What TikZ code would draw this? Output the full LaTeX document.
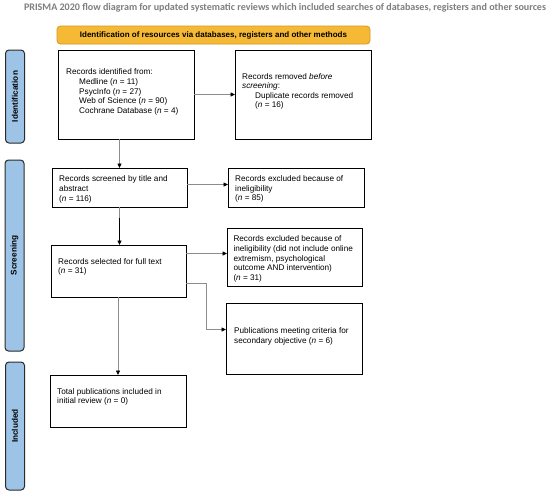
\documentclass[tikz,border=0pt]{standalone}
\usepackage{graphicx}
\usepackage{fontspec}
\setmainfont{Liberation Sans}
\newfontfamily\titlefont{Carlito}
\usetikzlibrary{arrows.meta,calc}
\definecolor{bannerfill}{HTML}{F5B935}
\definecolor{bannerdraw}{HTML}{D29A26}
\definecolor{sidefill}{HTML}{9DC3E6}
\definecolor{sidedraw}{HTML}{2B2B2B}
\definecolor{linegray}{HTML}{8C8C8C}
\definecolor{titlegray}{HTML}{7F7F7F}
\begin{document}
\begin{tikzpicture}[x=1pt,y=-1pt,
  box/.style={draw=black,line width=0.9pt,inner sep=0pt,outer sep=0pt,fill=white},
  txt/.style={anchor=north west,inner sep=0pt,align=left,font=\fontsize{8.2}{9.6}\selectfont},
  side/.style={draw=sidedraw,fill=sidefill,line width=1pt,rounded corners=3.5pt,inner sep=0pt,minimum width=19pt},
  sidetxt/.style={rotate=90,inner sep=0pt,font=\bfseries\fontsize{8.2}{9.6}\selectfont},
  conn/.style={draw=linegray,line width=0.8pt},
  arr/.style={conn,-{Triangle[length=4.5pt,width=4pt,color=black]}}]
\useasboundingbox[fill=white] (0,0) rectangle (550,493);

% title
\node[inner sep=0pt,outer sep=0pt,anchor=west,text=titlegray] (title) at (24,8)
  {\resizebox{522pt}{!}{\titlefont\bfseries PRISMA 2020 flow diagram for updated systematic reviews which included searches of databases, registers and other sources}};

% banner
\node[draw=bannerdraw,fill=bannerfill,line width=0.8pt,rounded corners=3.5pt,
  minimum width=313pt,minimum height=18pt,inner sep=0pt,
  font=\bfseries\fontsize{8}{9}\selectfont] (banner) at (213.5,35)
  {Identification of resources via databases, registers and other methods};

% side labels
\node[side,minimum height=93pt] (sid) at (15,96.5) {};
\node[sidetxt] (sidt) at (sid.center) {Identification};
\node[side,minimum height=191pt] (sscr) at (14.5,255.5) {};
\node[sidetxt] (sscrt) at (sscr.center) {Screening};
\node[side,minimum height=128pt] (sinc) at (15,426) {};
\node[sidetxt] (sinct) at (sinc.center) {Included};

% boxes
\node[box,minimum width=136pt,minimum height=89pt] (b1) at (126,94.5) {};
\node[box,minimum width=136pt,minimum height=89pt] (b2) at (303,94.5) {};
\node[box,minimum width=135pt,minimum height=39pt] (b3) at (119.5,187.5) {};
\node[box,minimum width=136pt,minimum height=39pt] (b4) at (296,187.5) {};
\node[box,minimum width=135pt,minimum height=52pt] (b5) at (118.5,271) {};
\node[box,minimum width=135pt,minimum height=58pt] (b6) at (294.5,257) {};
\node[box,minimum width=136pt,minimum height=71pt] (b7) at (294,338.5) {};
\node[box,minimum width=136pt,minimum height=52pt] (b8) at (118,401) {};

% box texts
\node[txt] (t1) at (66,68.7) {Records identified from:\\
  \hspace*{13pt}Medline (\textit{n} = 11)\\
  \hspace*{13pt}PsycInfo (\textit{n} = 27)\\
  \hspace*{13pt}Web of Science (\textit{n} = 90)\\
  \hspace*{13pt}Cochrane Database (\textit{n} = 4)};
\node[txt] (t2) at (242,73) {Records removed \textit{before}\\
  \textit{screening}:\\
  \hspace*{13pt}Duplicate records removed\\
  \hspace*{13pt}(\textit{n} = 16)};
\node[txt] (t3) at (59,175.7) {Records screened by title and\\ abstract\\ (\textit{n} = 116)};
\node[txt] (t4) at (235,175.3) {Records excluded because of\\ ineligibility\\ (\textit{n} = 85)};
\node[txt] (t5) at (58,258) {Records selected for full text\\ (\textit{n} = 31)};
\node[txt] (t6) at (233.3,235.7) {Records excluded because of\\ ineligibility (did not include online\\ extremism, psychological\\ outcome AND intervention)\\ (\textit{n} = 31)};
\node[txt] (t7) at (234,327.5) {Publications meeting criteria for\\ secondary objective (\textit{n} = 6)};
\node[txt] (t8) at (57,388) {Total publications included in\\ initial review (\textit{n} = 0)};

% connectors
\draw[arr] (b1) -- (b2);
\draw[arr] (b3.north |- b1.south) -- (b3.north);
\draw[arr] ([yshift=3pt]b3.east) -- ([yshift=3pt]b3.east -| b4.west);
\coordinate (m35) at ($(b3.south)!0.28!(b3.south |- b5.north)$);
\draw[conn] (b3.south) -- (m35);
\draw[line width=0.8pt,-{Triangle[length=4.5pt,width=4pt]}] (m35) -- (m35 |- b5.north);
\draw[arr] ([yshift=17.5pt]b5.east) -- ([yshift=17.5pt]b5.east -| b6.west);
\coordinate (s5) at ([yshift=-12pt]b5.east);
\coordinate (t7in) at ([yshift=9pt]b7.west);
\coordinate (ek) at (206.5,300);
\draw[arr] (s5) -- (s5 -| ek) -- (ek |- t7in) -- (t7in);
\draw[arr] (b8.north |- b5.south) -- (b8.north);
\end{tikzpicture}
\end{document}
